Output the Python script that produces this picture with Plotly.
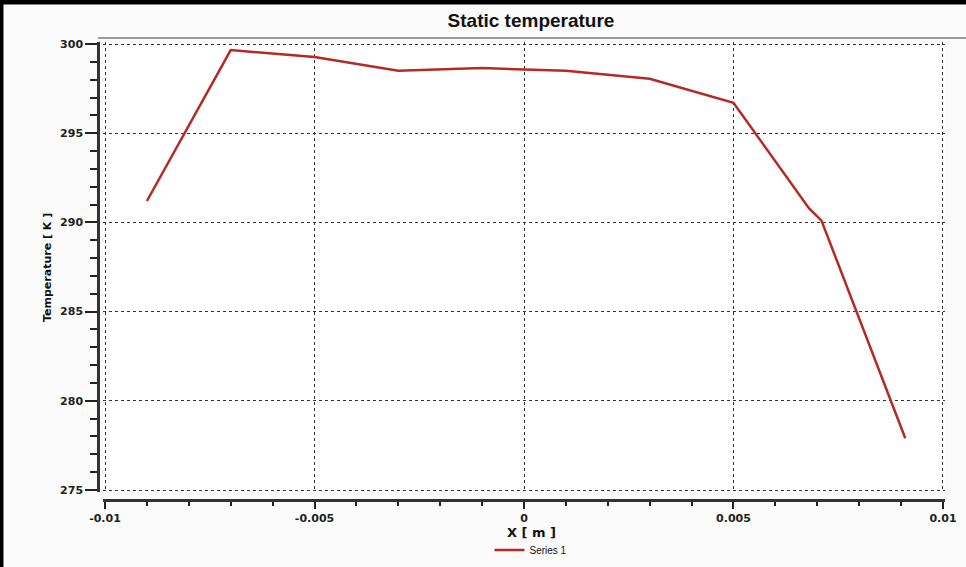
import plotly.graph_objects as go

x_m = [-0.009, -0.007, -0.005, -0.003, -0.001, 0.001, 0.003, 0.005, 0.0068, 0.0071, 0.0091]
temp_k = [291.2, 299.66, 299.27, 298.5, 298.65, 298.5, 298.05, 296.7, 290.8, 290.1, 277.9]

fig = go.Figure()
fig.add_trace(go.Scatter(x=x_m, y=temp_k, mode="lines", name="Series 1",
                         line=dict(color="#b52a24", width=2.5)))

W, H = 966, 567
ml, mr, mt, mb = 98, 9, 42, 67
pw, ph = W - ml - mr, H - mt - mb


def px_x(p):
    return (p - ml) / pw


def px_y(p):
    return (H - mb - p) / ph


axis_font = dict(family="DejaVu Sans", size=11, color="#222")
fig.update_layout(
    width=W, height=H,
    margin=dict(l=ml, r=mr, t=mt, b=mb, autoexpand=False),
    paper_bgcolor="#fbfbfb", plot_bgcolor="white",
    title=dict(text="<b>Static temperature</b>", x=531 / W, xref="container", xanchor="center",
               y=1 - 20 / H, yref="container", yanchor="middle",
               font=dict(family="Liberation Sans", size=19, color="#111")),
    showlegend=True,
    legend=dict(orientation="h", x=px_x(531), xanchor="center", y=px_y(550),
                yanchor="middle", font=dict(family="Liberation Sans", size=10, color="#111"),
                bgcolor="rgba(0,0,0,0)"),
    xaxis=dict(domain=[px_x(103), px_x(945)], range=[-0.010048, 0.010048], anchor="free", position=0,
               tickvals=[-0.01, -0.005, 0, 0.005, 0.01],
               ticktext=["<b>-0.01</b>", "<b>-0.005</b>", "<b>0</b>", "<b>0.005</b>", "<b>0.01</b>"],
               ticks="outside", ticklen=7, tickwidth=2, tickcolor="#222",
               showline=True, linecolor="#333", linewidth=2.5,
               showgrid=True, gridcolor="#333", griddash="dot", gridwidth=1,
               zeroline=False, tickfont=axis_font,
               minor=dict(dtick=0.001, tick0=0, ticks="outside", ticklen=4, tickwidth=2,
                          tickcolor="#222", showgrid=False)),
    yaxis=dict(domain=[px_y(492), 1], range=[274.888, 300.112], anchor="free", position=0,
               tickvals=[275, 280, 285, 290, 295, 300],
               ticktext=["<b>275</b>", "<b>280</b>", "<b>285</b>", "<b>290</b>", "<b>295</b>", "<b>300</b>"],
               ticks="outside", ticklen=12, tickwidth=2, tickcolor="#222",
               showline=True, linecolor="#333", linewidth=2.5,
               showgrid=True, gridcolor="#333", griddash="dot", gridwidth=1,
               zeroline=False, tickfont=axis_font,
               minor=dict(dtick=1, tick0=275, ticks="outside", ticklen=7, tickwidth=2,
                          tickcolor="#222", showgrid=False)),
    annotations=[
        dict(text="<b>X [ m ]</b>", x=px_x(531), y=px_y(532), xref="paper", yref="paper",
             showarrow=False, xanchor="center", yanchor="middle",
             font=dict(family="DejaVu Sans", size=13, color="#111")),
        dict(text="<b>Temperature [ K ]</b>", x=px_x(47), y=px_y(268), xref="paper", yref="paper",
             showarrow=False, textangle=-90, xanchor="center", yanchor="middle",
             font=dict(family="DejaVu Sans", size=11, color="#111")),
    ],
    shapes=[
        dict(type="line", xref="paper", yref="paper", x0=px_x(1), x1=px_x(1),
             y0=px_y(H), y1=px_y(0), line=dict(color="black", width=5)),
        dict(type="line", xref="paper", yref="paper", x0=px_x(0), x1=px_x(W),
             y0=px_y(2), y1=px_y(2), line=dict(color="black", width=5)),
        dict(type="line", xref="paper", yref="paper", x0=px_x(98), x1=px_x(W),
             y0=px_y(38), y1=px_y(38), line=dict(color="#999", width=2)),
    ],
)

fig.write_html("out.html")
